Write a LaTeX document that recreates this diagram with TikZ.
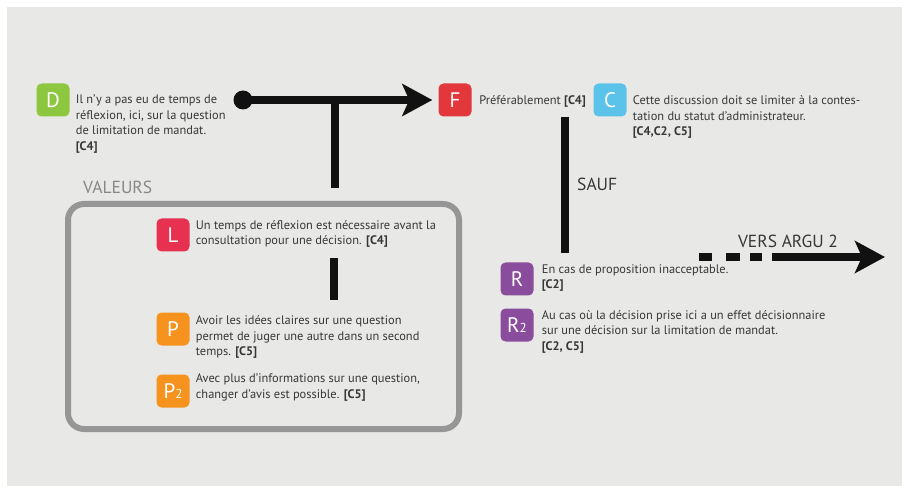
\documentclass[tikz,border=0pt]{standalone}
\usepackage{fontspec}
\setmainfont{PT Sans}
\usepackage{xcolor}
\usetikzlibrary{positioning, arrows.meta, calc}
\definecolor{bggray}{RGB}{232,233,230}
\definecolor{txtgray}{RGB}{55,55,55}
\definecolor{boxgray}{RGB}{150,150,150}
\definecolor{labelgray}{RGB}{135,135,135}
\definecolor{inkblack}{RGB}{17,17,17}
\definecolor{dgreen}{RGB}{141,198,63}
\definecolor{fred}{RGB}{226,56,60}
\definecolor{cblue}{RGB}{91,194,234}
\definecolor{lcrimson}{RGB}{230,50,80}
\definecolor{porange}{RGB}{246,146,30}
\definecolor{rpurple}{RGB}{138,76,156}
\tikzset{
    badge/.style={rectangle, rounded corners=5pt, minimum size=33pt, inner sep=0pt, text=white, font=\fontsize{21}{21}\selectfont},
    txt/.style={align=left, inner sep=0pt, text=txtgray, font=\fontsize{12.4}{15.5}\selectfont, anchor=north west},
    caps/.style={inner sep=0pt, font=\fontsize{17.5}{17.5}\selectfont},
    thickline/.style={line width=8pt, draw=inkblack},
    bigarrow/.style={thickline, -{Stealth[length=30pt, width=32pt, inset=7pt]}}
}
\newcommand{\sub}[1]{{\fontsize{13}{13}\selectfont #1}}

\begin{document}
\begin{tikzpicture}[x=1pt, y=-1pt]
  \useasboundingbox (0,0) rectangle (902,486);
  \fill[white] (0,0) rectangle (902,486);
  \fill[bggray] (7,7) rectangle (902,486);

  % badges
  \node[badge, fill=dgreen] (D) at (53,100) {D};
  \node[badge, fill=fred] (F) at (455,100) {F};
  \node[badge, fill=cblue] (C) at (610,100) {C};
  \node[badge, fill=lcrimson] (L) at (173,235) {L};
  \node[badge, fill=porange] (P) at (173,329) {P};
  \node[badge, fill=porange] (P2) at (173,391) {P\sub{2}};
  \node[badge, fill=rpurple] (R) at (517,279) {R};
  \node[badge, fill=rpurple] (R2) at (517,325) {R\sub{2}};

  % texts
  \node[txt] (Dtxt) at ([xshift=6pt, yshift=-9.5pt]D.north east)
    {\strut Il n’y a pas eu de temps de\\ réflexion, ici, sur la question\\ de limitation de mandat.\\ \textbf{[C4]}};
  \node[txt, anchor=west] (Ftxt) at ([xshift=7.5pt, yshift=-1pt]F.east) {Préférablement \textbf{[C4]}};
  \node[txt] (Ctxt) at ([xshift=6pt, yshift=-10.5pt]C.north east)
    {\strut Cette discussion doit se limiter à la contes-\\ tation du statut d’administrateur.\\ \textbf{[C4,C2, C5]}};
  \node[txt] (Ltxt) at ([xshift=6pt]L.north east)
    {\strut Un temps de réflexion est nécessaire avant la\\ consultation pour une décision. \textbf{[C4]}};
  \node[txt] (Ptxt) at ([xshift=6pt, yshift=-1.5pt]P.north east)
    {\strut Avoir les idées claires sur une question\\ permet de juger une autre dans un second\\ temps. \textbf{[C5]}};
  \node[txt] (P2txt) at ([xshift=6pt, yshift=2.5pt]P2.north east)
    {\strut Avec plus d’informations sur une question,\\ changer d’avis est possible. \textbf{[C5]}};
  \node[txt] (Rtxt) at ([xshift=8pt]R.north east)
    {\strut En cas de proposition inacceptable.\\ \textbf{[C2]}};
  \node[txt] (R2txt) at ([xshift=8pt]R2.north east)
    {\strut Au cas où la décision prise ici a un effet décisionnaire\\ sur une décision sur la limitation de mandat.\\ \textbf{[C2, C5]}};

  % valeurs frame
  \node[draw=boxgray, line width=6pt, rounded corners=16pt, minimum width=391pt, minimum height=225pt] (valeurs) at (263.5,316.5) {};
  \node[caps, text=labelgray, anchor=west] (vallabel) at (83,187) {VALEURS};

  % main arrow
  \node[circle, fill=inkblack, minimum size=19pt, inner sep=0pt] (start) at (243,100) {};
  \draw[bigarrow, shorten >=6pt] (start.center) -- (F.west);
  \coordinate (junc) at (335,100);
  \draw[thickline, shorten >=13pt] (junc) -- (junc |- valeurs.north);

  % inside the frame
  \coordinate (lbar1) at (334,258);
  \coordinate (lbar2) at (334,300);
  \draw[thickline] (lbar1) -- (lbar2);

  % sauf
  \coordinate (sauf1) at (565,117);
  \coordinate (sauf2) at (565,253);
  \draw[thickline] (sauf1) -- (sauf2);
  \node[caps, text=txtgray, anchor=west] (sauf) at (577,184) {SAUF};

  % vers argu 2
  \coordinate (arg1) at (699,257);
  \coordinate (arg2) at (772,257);
  \coordinate (arg3) at (885,257);
  \draw[thickline, dash pattern=on 13pt off 14pt on 14pt off 10pt on 12pt off 10pt] (arg1) -- (arg2);
  \draw[bigarrow] (arg2) -- (arg3);
  \node[caps, text=txtgray] (argu) at (788,241) {VERS ARGU 2};
\end{tikzpicture}
\end{document}
